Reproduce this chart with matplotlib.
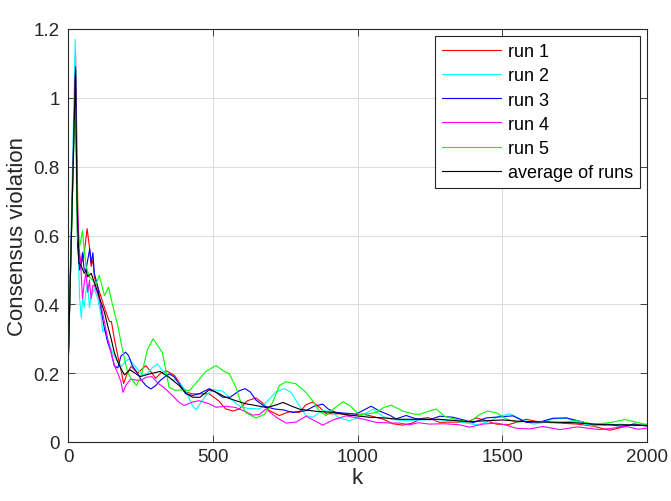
import matplotlib
matplotlib.use("Agg")
import matplotlib.pyplot as plt
from matplotlib.ticker import FuncFormatter

plt.rcParams['font.family'] = ['Liberation Sans', 'DejaVu Sans']

# ---- data ----
k_run1 = [0, 26, 36, 45, 52, 59, 66, 75, 80, 86, 91, 103, 115, 126, 143, 150, 160, 172, 183, 192, 205, 218, 240, 269, 290, 303, 320, 340, 367, 384, 407, 430, 453, 488, 520, 545, 570, 592, 620, 649, 670, 696, 730, 765, 799, 822, 845, 870, 892, 940, 972, 1018, 1050, 1087, 1122, 1156, 1190, 1220, 1243, 1283, 1330, 1376, 1410, 1445, 1479, 1520, 1583, 1630, 1700, 1760, 1814, 1871, 1910, 1955, 2000]
v_run1 = [0.2, 1.135, 0.56, 0.52, 0.53, 0.57, 0.62, 0.56, 0.51, 0.53, 0.48, 0.45, 0.42, 0.39, 0.35, 0.35, 0.30, 0.25, 0.21, 0.17, 0.2, 0.22, 0.2, 0.222, 0.2, 0.185, 0.2, 0.207, 0.194, 0.174, 0.145, 0.14, 0.14, 0.14, 0.12, 0.096, 0.09, 0.096, 0.12, 0.128, 0.115, 0.091, 0.077, 0.088, 0.086, 0.108, 0.116, 0.1, 0.082, 0.082, 0.077, 0.081, 0.075, 0.067, 0.053, 0.049, 0.055, 0.068, 0.071, 0.057, 0.058, 0.057, 0.07, 0.062, 0.052, 0.05, 0.066, 0.058, 0.055, 0.052, 0.046, 0.034, 0.042, 0.053, 0.046]

k_run2 = [0, 25, 34, 40, 46, 51, 56, 62, 68, 74, 79, 91, 103, 114, 120, 126, 137, 149, 160, 172, 185, 200, 211, 240, 257, 275, 290, 309, 326, 338, 355, 378, 407, 430, 442, 459, 476, 500, 534, 569, 592, 619, 661, 690, 718, 747, 770, 799, 822, 845, 880, 910, 937, 972, 1000, 1053, 1087, 1120, 1168, 1220, 1270, 1320, 1364, 1410, 1450, 1490, 1526, 1560, 1606, 1640, 1675, 1722, 1760, 1814, 1860, 1910, 1960, 2000]
v_run2 = [0.2, 1.17, 0.6, 0.42, 0.36, 0.42, 0.39, 0.44, 0.46, 0.39, 0.42, 0.445, 0.416, 0.367, 0.32, 0.33, 0.30, 0.27, 0.25, 0.232, 0.22, 0.235, 0.241, 0.212, 0.195, 0.2, 0.215, 0.227, 0.207, 0.2, 0.183, 0.178, 0.149, 0.106, 0.093, 0.115, 0.135, 0.152, 0.148, 0.12, 0.105, 0.098, 0.096, 0.12, 0.145, 0.155, 0.145, 0.105, 0.077, 0.072, 0.092, 0.088, 0.07, 0.062, 0.07, 0.095, 0.075, 0.065, 0.062, 0.064, 0.065, 0.062, 0.057, 0.05, 0.058, 0.075, 0.082, 0.068, 0.052, 0.056, 0.067, 0.069, 0.057, 0.047, 0.049, 0.052, 0.047, 0.053]

k_run3 = [0, 26, 33, 40, 45, 50, 56, 62, 75, 80, 86, 91, 103, 114, 126, 137, 149, 160, 172, 183, 199, 210, 222, 240, 251, 269, 286, 303, 320, 349, 366, 384, 407, 430, 453, 488, 510, 534, 560, 592, 612, 630, 649, 678, 713, 745, 776, 822, 850, 880, 900, 926, 995, 1047, 1076, 1111, 1133, 1168, 1200, 1250, 1284, 1329, 1376, 1399, 1445, 1490, 1537, 1583, 1630, 1675, 1722, 1760, 1814, 1860, 1906, 1950, 2000]
v_run3 = [0.2, 1.09, 0.57, 0.5, 0.513, 0.55, 0.5, 0.5, 0.561, 0.52, 0.55, 0.49, 0.45, 0.387, 0.329, 0.29, 0.26, 0.222, 0.215, 0.25, 0.261, 0.25, 0.222, 0.2, 0.183, 0.164, 0.154, 0.164, 0.18, 0.198, 0.19, 0.169, 0.14, 0.135, 0.14, 0.155, 0.145, 0.13, 0.13, 0.149, 0.155, 0.145, 0.122, 0.104, 0.096, 0.093, 0.086, 0.091, 0.104, 0.11, 0.095, 0.086, 0.081, 0.104, 0.09, 0.078, 0.067, 0.077, 0.068, 0.065, 0.075, 0.072, 0.062, 0.056, 0.07, 0.073, 0.076, 0.057, 0.058, 0.069, 0.07, 0.062, 0.05, 0.052, 0.046, 0.05, 0.047]

k_run4 = [0, 25, 33, 40, 45, 50, 56, 62, 68, 74, 80, 86, 91, 103, 114, 126, 137, 149, 160, 172, 183, 190, 199, 217, 235, 251, 269, 290, 312, 332, 361, 384, 401, 430, 453, 488, 511, 546, 580, 614, 637, 661, 684, 719, 753, 788, 822, 845, 880, 915, 961, 1018, 1064, 1120, 1145, 1180, 1210, 1249, 1300, 1352, 1387, 1433, 1479, 1510, 1548, 1595, 1640, 1699, 1760, 1837, 1880, 1930, 1970, 2000]
v_run4 = [0.2, 1.06, 0.677, 0.55, 0.5, 0.416, 0.46, 0.493, 0.435, 0.47, 0.416, 0.455, 0.455, 0.43, 0.397, 0.348, 0.3, 0.26, 0.222, 0.2, 0.175, 0.144, 0.164, 0.183, 0.18, 0.178, 0.188, 0.19, 0.17, 0.158, 0.135, 0.115, 0.106, 0.116, 0.12, 0.111, 0.101, 0.104, 0.1, 0.088, 0.078, 0.08, 0.096, 0.072, 0.055, 0.058, 0.075, 0.065, 0.049, 0.064, 0.076, 0.067, 0.057, 0.055, 0.055, 0.05, 0.056, 0.052, 0.053, 0.05, 0.043, 0.052, 0.055, 0.05, 0.04, 0.038, 0.045, 0.036, 0.044, 0.036, 0.04, 0.045, 0.037, 0.04]

k_run5 = [0, 25, 32, 39, 50, 56, 62, 74, 86, 95, 108, 126, 140, 149, 160, 172, 183, 195, 206, 218, 237, 255, 275, 294, 310, 326, 340, 349, 370, 400, 419, 441, 476, 511, 540, 557, 580, 597, 614, 649, 678, 707, 730, 753, 788, 822, 845, 868, 891, 915, 950, 975, 1005, 1040, 1065, 1090, 1116, 1156, 1191, 1214, 1240, 1272, 1300, 1341, 1387, 1422, 1450, 1480, 1514, 1549, 1583, 1640, 1700, 1756, 1814, 1870, 1925, 1960, 2000]
v_run5 = [0.2, 1.02, 0.6, 0.561, 0.614, 0.56, 0.513, 0.479, 0.47, 0.455, 0.484, 0.425, 0.45, 0.416, 0.377, 0.338, 0.29, 0.242, 0.203, 0.184, 0.164, 0.2, 0.27, 0.3, 0.28, 0.26, 0.2, 0.159, 0.15, 0.152, 0.149, 0.17, 0.205, 0.222, 0.205, 0.198, 0.159, 0.115, 0.085, 0.07, 0.08, 0.115, 0.164, 0.175, 0.169, 0.144, 0.12, 0.09, 0.077, 0.095, 0.117, 0.105, 0.08, 0.082, 0.086, 0.1, 0.107, 0.09, 0.082, 0.08, 0.088, 0.096, 0.075, 0.065, 0.058, 0.08, 0.09, 0.085, 0.067, 0.058, 0.06, 0.059, 0.057, 0.062, 0.052, 0.056, 0.065, 0.058, 0.05]

k_avg = [0, 26, 31, 38, 45, 56, 62, 68, 80, 91, 103, 114, 126, 137, 149, 160, 172, 183, 195, 214, 249, 283, 318, 349, 384, 407, 430, 456, 488, 511, 545, 580, 614, 649, 686, 720, 743, 770, 801, 859, 916, 974, 1008, 1041, 1090, 1145, 1220, 1283, 1340, 1387, 1450, 1502, 1560, 1650, 1750, 1850, 1920, 2000]
v_avg = [0.2, 1.08, 0.7, 0.52, 0.513, 0.49, 0.5, 0.48, 0.49, 0.464, 0.435, 0.406, 0.377, 0.338, 0.3, 0.26, 0.232, 0.213, 0.195, 0.21, 0.19, 0.198, 0.205, 0.188, 0.164, 0.142, 0.13, 0.13, 0.152, 0.145, 0.13, 0.12, 0.111, 0.106, 0.1, 0.108, 0.115, 0.105, 0.095, 0.089, 0.086, 0.078, 0.075, 0.072, 0.07, 0.066, 0.066, 0.066, 0.062, 0.059, 0.062, 0.064, 0.06, 0.058, 0.056, 0.05, 0.05, 0.048]

labels = ['run 1', 'run 2', 'run 3', 'run 4', 'run 5', 'average of runs']
colors = ['#ff0000', '#00ffff', '#0000ff', '#ff00ff', '#00ff00', '#000000']
x_ticks = [0, 500, 1000, 1500, 2000]
y_ticks = [0, 0.2, 0.4, 0.6, 0.8, 1.0, 1.2]

# ---- figure ----
fig = plt.figure(figsize=(6.71, 5.02), dpi=100)
ax = fig.add_axes([68/671, 59/502, 579/671, 413/502])

series = [(k_run1, v_run1), (k_run2, v_run2), (k_run3, v_run3),
          (k_run4, v_run4), (k_run5, v_run5), (k_avg, v_avg)]
for (kk, vv), lab, col in zip(series, labels, colors):
    ax.plot(kk, vv, color=col, lw=0.8, label=lab)

ax.set_xlim(0, 2000)
ax.set_ylim(0, 1.2)
ax.set_xticks(x_ticks)
ax.set_yticks(y_ticks)
ax.yaxis.set_major_formatter(FuncFormatter(lambda v, p: f"{v:g}"))

dark = '#262626'
for s in ax.spines.values():
    s.set_color(dark)
    s.set_linewidth(0.8)
ax.tick_params(direction='in', length=5, width=0.6, colors=dark,
               labelsize=13.5, top=True, right=True)
ax.tick_params(axis='x', pad=4)
ax.tick_params(axis='y', pad=6)
ax.grid(True, color='#dcdcdc', lw=0.7)
ax.set_axisbelow(True)

ax.set_xlabel('k', fontsize=16, color=dark, va='center')
ax.xaxis.set_label_coords(0.5, -0.087)
ax.set_ylabel('Consensus violation', fontsize=16, color=dark, va='center')
ax.yaxis.set_label_coords(-0.088, 0.5)

leg = ax.legend(loc='upper right', fontsize=13, frameon=True, fancybox=False,
                edgecolor=dark, framealpha=1, handlelength=3.3, handletextpad=0.35,
                labelspacing=0.4, borderpad=0.4, borderaxespad=0.38)
leg.get_frame().set_linewidth(0.8)

fig.savefig('out.png', dpi=100)
